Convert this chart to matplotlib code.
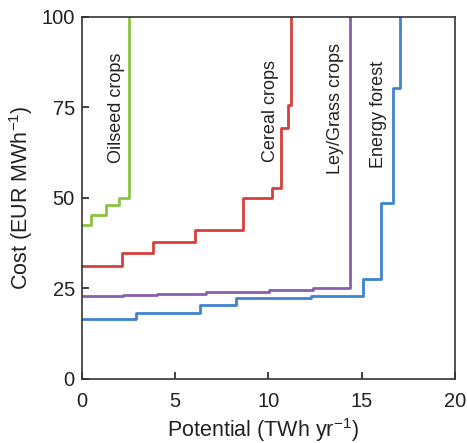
import matplotlib
matplotlib.use("Agg")
import matplotlib.pyplot as plt

plt.rcParams['font.family'] = ['Liberation Sans', 'DejaVu Sans']
plt.rcParams['mathtext.fontset'] = 'custom'
plt.rcParams['mathtext.rm'] = 'Liberation Sans'
plt.rcParams['mathtext.it'] = 'Liberation Sans:italic'

# Supply curves: cumulative potential breakpoints (TWh/yr) and cost levels (EUR/MWh)
energy_forest_x = [0, 2.9, 6.35, 8.28, 12.28, 15.1, 16.05, 16.7, 17.07]
energy_forest_y = [16.5, 18.0, 20.2, 22.2, 22.9, 27.6, 48.5, 80.3, 100]
ley_grass_x = [0, 2.2, 4.05, 6.66, 10.05, 12.4, 14.4]
ley_grass_y = [22.7, 23.1, 23.5, 23.9, 24.5, 24.9, 100]
cereal_x = [0, 2.14, 3.84, 6.08, 8.67, 10.2, 10.69, 11.03, 11.2]
cereal_y = [31.25, 34.6, 37.7, 41.1, 50.0, 52.8, 69.2, 75.6, 100]
oilseed_x = [0, 0.48, 1.3, 2.02, 2.55]
oilseed_y = [42.4, 45.1, 48.0, 49.9, 100]

labels = ["Oilseed crops", "Cereal crops", "Ley/Grass crops", "Energy forest"]
xticks = [0, 5, 10, 15, 20]
yticks = [0, 25, 50, 75, 100]

fig = plt.figure(figsize=(4.67, 4.43), dpi=100)
ax = fig.add_axes([0.175, 0.1455, 0.799, 0.8165])

series = [
    (oilseed_x, oilseed_y, '#8cc342'),
    (cereal_x, cereal_y, '#d6403c'),
    (ley_grass_x, ley_grass_y, '#8a5fae'),
    (energy_forest_x, energy_forest_y, '#3f82cf'),
]
for xs, ys, c in series:
    ax.step(xs, ys, where='post', color=c, lw=2.0)

label_pos = [(1.88, 74.8), (10.1, 74.0), (13.58, 74.7), (15.9, 72.9)]
for lab, (lx, ly) in zip(labels, label_pos):
    ax.text(lx, ly, lab, rotation=90, ha='center', va='center', fontsize=13, color='#222222')

ax.set_xlim(0, 20)
ax.set_ylim(0, 100)
ax.set_xticks(xticks)
ax.set_yticks(yticks)
ax.tick_params(direction='in', labelsize=14.5, length=5, width=1.2, colors='#222222')
ax.tick_params(axis='x', pad=10)
ax.tick_params(axis='y', pad=5)
ax.set_xlabel(r'Potential (TWh yr$^{\mathrm{-1}}$)', fontsize=15.5, color='#222222')
ax.set_ylabel(r'Cost (EUR MWh$^{\mathrm{-1}}$)', fontsize=15.5, color='#222222')
ax.xaxis.set_label_coords(0.485, -0.103)
ax.yaxis.set_label_coords(-0.125, 0.5)
for s in ax.spines.values():
    s.set_linewidth(1.2)
    s.set_color('#333333')

fig.savefig('out.png', dpi=100)
